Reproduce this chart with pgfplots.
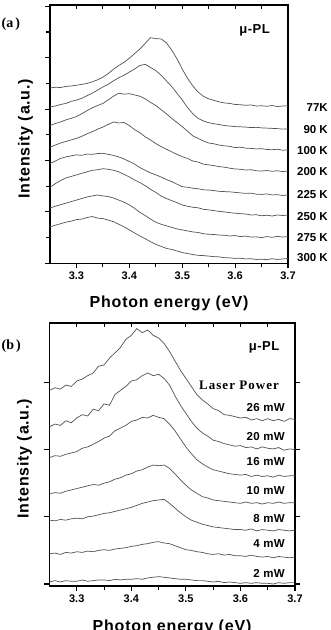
\documentclass[border=0pt]{standalone}
\usepackage{fontspec}
\setmainfont{Liberation Sans}
\newfontfamily\serifface{Liberation Serif}
\usepackage{pgfplots}
\usepackage{pgfplotstable}
\pgfplotsset{compat=1.18}

% Temperature series (offset traces, arbitrary units)
\pgfplotstableread{
x    c77  c90  c100 c200 c225 c250 c275 c300
3.25 6.82 6.08 5.36 4.52 3.88 2.96 2.15 1.42
3.26 6.85 6.12 5.44 4.60 3.98 3.10 2.22 1.48
3.27 6.84 6.18 5.50 4.68 4.08 3.22 2.28 1.54
3.28 6.88 6.22 5.58 4.74 4.14 3.32 2.34 1.60
3.29 6.90 6.30 5.64 4.80 4.18 3.38 2.40 1.64
3.30 6.93 6.35 5.71 4.86 4.22 3.44 2.46 1.70
3.31 6.96 6.42 5.82 4.94 4.20 3.50 2.52 1.72
3.32 7.00 6.52 5.94 5.04 4.25 3.56 2.58 1.78
3.33 7.06 6.62 6.05 5.12 4.24 3.62 2.62 1.82
3.34 7.14 6.74 6.14 5.22 4.27 3.64 2.66 1.76
3.35 7.24 6.86 6.22 5.30 4.28 3.68 2.62 1.74
3.36 7.38 6.96 6.36 5.40 4.24 3.66 2.60 1.68
3.37 7.55 7.10 6.50 5.50 4.20 3.62 2.54 1.62
3.38 7.70 7.22 6.62 5.46 4.14 3.56 2.46 1.52
3.39 7.82 7.32 6.58 5.48 4.06 3.46 2.38 1.42
3.40 7.98 7.44 6.60 5.36 3.96 3.36 2.27 1.30
3.41 8.16 7.56 6.55 5.20 3.86 3.24 2.14 1.18
3.42 8.34 7.70 6.50 5.08 3.72 3.14 1.98 1.06
3.43 8.56 7.74 6.40 4.92 3.62 3.02 1.86 0.96
3.44 8.78 7.62 6.26 4.80 3.52 2.88 1.72 0.84
3.45 8.74 7.50 6.14 4.66 3.44 2.76 1.60 0.74
3.46 8.73 7.32 5.98 4.54 3.36 2.62 1.52 0.66
3.47 8.58 7.10 5.82 4.44 3.26 2.52 1.46 0.58
3.48 8.30 6.88 5.64 4.34 3.18 2.44 1.40 0.54
3.49 7.96 6.62 5.48 4.24 3.08 2.36 1.34 0.48
3.50 7.56 6.36 5.32 4.15 2.98 2.27 1.30 0.42
3.51 7.20 6.06 5.14 4.08 2.96 2.22 1.26 0.38
3.52 6.90 5.82 4.96 3.98 2.92 2.18 1.22 0.34
3.53 6.66 5.64 4.86 3.94 2.90 2.16 1.20 0.31
3.54 6.50 5.54 4.76 3.86 2.86 2.10 1.15 0.30
3.55 6.40 5.47 4.68 3.83 2.85 2.08 1.13 0.28
3.56 6.34 5.43 4.65 3.80 2.83 2.05 1.12 0.26
3.57 6.28 5.40 4.60 3.76 2.80 2.02 1.10 0.25
3.58 6.24 5.36 4.57 3.74 2.79 2.00 1.09 0.22
3.59 6.22 5.34 4.55 3.70 2.78 1.97 1.06 0.21
3.60 6.18 5.32 4.50 3.67 2.76 1.95 1.08 0.19
3.61 6.17 5.31 4.52 3.66 2.74 1.93 1.04 0.20
3.62 6.15 5.30 4.48 3.63 2.72 1.92 1.06 0.17
3.63 6.16 5.28 4.47 3.64 2.73 1.88 1.02 0.18
3.64 6.12 5.29 4.45 3.60 2.69 1.89 1.03 0.15
3.65 6.13 5.27 4.46 3.59 2.68 1.85 1.00 0.16
3.66 6.11 5.26 4.43 3.61 2.70 1.87 1.04 0.14
3.67 6.14 5.25 4.42 3.58 2.66 1.84 1.01 0.18
3.68 6.10 5.24 4.44 3.60 2.67 1.88 1.05 0.15
3.69 6.12 5.22 4.40 3.57 2.64 1.86 1.02 0.17
3.70 6.13 5.23 4.41 3.59 2.66 1.88 1.04 0.19
}\temptable

% Laser-power series (offset traces, arbitrary units)
\pgfplotstableread{
x    p26  p20  p16  p10  p8   p4   p2
3.25 2.88 2.34 1.88 1.34 0.95 0.45 0.03
3.26 2.92 2.38 1.91 1.36 0.94 0.46 0.05
3.27 2.90 2.36 1.90 1.35 0.96 0.44 0.03
3.28 2.96 2.43 1.93 1.38 0.95 0.47 0.05
3.29 2.94 2.40 1.95 1.40 0.97 0.46 0.04
3.30 3.02 2.47 1.97 1.42 0.98 0.48 0.04
3.31 3.05 2.52 2.02 1.44 0.97 0.47 0.06
3.32 3.10 2.50 2.04 1.46 1.00 0.49 0.04
3.33 3.14 2.60 2.08 1.48 1.01 0.48 0.05
3.34 3.24 2.58 2.12 1.47 1.03 0.50 0.06
3.35 3.26 2.68 2.17 1.50 1.05 0.51 0.06
3.36 3.36 2.66 2.20 1.52 1.06 0.50 0.05
3.37 3.44 2.82 2.28 1.56 1.08 0.52 0.07
3.38 3.52 2.88 2.32 1.58 1.10 0.53 0.06
3.39 3.64 2.94 2.36 1.62 1.12 0.54 0.07
3.40 3.70 3.02 2.42 1.64 1.14 0.56 0.07
3.41 3.80 3.04 2.44 1.68 1.17 0.57 0.08
3.42 3.74 3.10 2.48 1.70 1.20 0.59 0.07
3.43 3.78 3.14 2.47 1.74 1.22 0.60 0.09
3.44 3.70 3.10 2.51 1.77 1.24 0.62 0.10
3.45 3.66 3.12 2.48 1.76 1.25 0.63 0.11
3.46 3.58 3.06 2.46 1.77 1.26 0.61 0.10
3.47 3.46 2.96 2.38 1.72 1.20 0.60 0.09
3.48 3.32 2.80 2.28 1.64 1.13 0.57 0.08
3.49 3.18 2.66 2.16 1.55 1.06 0.54 0.07
3.50 3.06 2.54 2.04 1.47 1.00 0.51 0.07
3.51 2.94 2.42 1.94 1.40 0.95 0.50 0.06
3.52 2.82 2.32 1.85 1.35 0.92 0.48 0.05
3.53 2.74 2.25 1.79 1.30 0.89 0.47 0.05
3.54 2.68 2.20 1.74 1.28 0.87 0.45 0.04
3.55 2.61 2.14 1.70 1.25 0.85 0.44 0.03
3.56 2.58 2.12 1.68 1.24 0.84 0.45 0.04
3.57 2.52 2.09 1.66 1.23 0.83 0.43 0.02
3.58 2.51 2.07 1.64 1.22 0.82 0.44 0.03
3.59 2.49 2.05 1.63 1.21 0.81 0.42 0.02
3.60 2.47 2.06 1.62 1.20 0.81 0.42 0.01
3.61 2.48 2.03 1.63 1.22 0.80 0.41 0.02
3.62 2.44 2.04 1.60 1.20 0.82 0.43 0.01
3.63 2.46 2.01 1.62 1.21 0.79 0.41 0.02
3.64 2.43 2.04 1.60 1.19 0.81 0.40 0.01
3.65 2.46 2.02 1.61 1.21 0.80 0.41 0.01
3.66 2.43 2.01 1.59 1.20 0.79 0.39 0.00
3.67 2.45 2.03 1.62 1.22 0.81 0.41 0.02
3.68 2.42 1.99 1.60 1.20 0.80 0.40 0.01
3.69 2.46 2.01 1.61 1.21 0.79 0.39 0.02
3.70 2.45 2.00 1.61 1.21 0.80 0.40 0.02
}\powertable

\newcommand\curvelbl{\fontsize{11.5}{12}\selectfont\bfseries}
\newcommand\axlbl{\fontsize{16}{16}\selectfont\bfseries\addfontfeature{LetterSpace=5}}
\newcommand\mupl{\fontsize{13}{13}\selectfont\bfseries\addfontfeature{LetterSpace=4}}

\pgfplotsset{
  curve/.style={black!68, line width=0.7pt, mark=none},
  panel/.style={
    scale only axis, anchor=south west,
    xmin=3.25, xmax=3.7,
    xtick={3.3,3.4,3.5,3.6,3.7}, minor x tick num=1,
    tick align=outside, xtick pos=bottom,
    axis line style={line width=1.6pt},
    tick style={black, line width=1.1pt},
    major tick length=5pt, minor tick length=4pt,
    yticklabels={},
    /pgf/number format/assume math mode=true,
    xticklabel style={font=\fontsize{11}{11}\selectfont\bfseries},
  },
  topticks/.style={
    scale only axis, anchor=south west,
    xmin=3.25, xmax=3.7,
    xtick={3.3,3.4,3.5,3.6,3.7}, minor x tick num=1,
    axis x line*=top, axis y line=none,
    tick align=inside, xticklabels={},
    axis line style={line width=1.6pt},
    tick style={black, line width=1.1pt},
    major tick length=4pt, minor tick length=4pt,
  },
}

\begin{document}
\begin{tikzpicture}

% ---- (a) temperature dependence ----
\begin{axis}[panel, at={(50pt,-263.3pt)}, width=238pt, height=258.3pt,
  ymin=0, ymax=10.05, ytick={0,2,...,10}, minor y tick num=1, ytick pos=left]
  \addplot[curve] table[x=x, y=c77]  {\temptable};
  \addplot[curve] table[x=x, y=c90]  {\temptable};
  \addplot[curve] table[x=x, y=c100] {\temptable};
  \addplot[curve] table[x=x, y=c200] {\temptable};
  \addplot[curve] table[x=x, y=c225] {\temptable};
  \addplot[curve] table[x=x, y=c250] {\temptable};
  \addplot[curve] table[x=x, y=c275] {\temptable};
  \addplot[curve] table[x=x, y=c300] {\temptable};
\end{axis}
\begin{axis}[topticks, at={(50pt,-263.3pt)}, width=238pt, height=258.3pt, ymin=0, ymax=10.05]
\end{axis}

% ---- (b) excitation power dependence ----
\begin{axis}[panel, at={(49.5pt,-586pt)}, width=245.5pt, height=263.3pt,
  ymin=-0.03, ymax=3.888, ytick={0,1,2,3}, ytick pos=both]
  \addplot[curve] table[x=x, y=p26] {\powertable};
  \addplot[curve] table[x=x, y=p20] {\powertable};
  \addplot[curve] table[x=x, y=p16] {\powertable};
  \addplot[curve] table[x=x, y=p10] {\powertable};
  \addplot[curve] table[x=x, y=p8]  {\powertable};
  \addplot[curve] table[x=x, y=p4]  {\powertable};
  \addplot[curve] table[x=x, y=p2]  {\powertable};
\end{axis}
\begin{axis}[topticks, at={(49.5pt,-586pt)}, width=245.5pt, height=263.3pt, ymin=-0.03, ymax=3.888]
\end{axis}

% panel letters
\node[anchor=base west, inner sep=0pt, font=\fontsize{14}{14}\selectfont\serifface\bfseries] at (1.5pt,-27.5pt) {(a\kern2pt)};
\node[anchor=base west, inner sep=0pt, font=\fontsize{14}{14}\selectfont\serifface\bfseries] at (1.5pt,-349pt) {(b\kern2pt)};

% axis titles
\node[anchor=base, inner sep=0pt, font=\axlbl] at (169pt,-307pt) {Photon energy (eV)};
\node[anchor=base, inner sep=0pt, font=\axlbl] at (172pt,-631pt) {Photon energy (eV)};
\node[anchor=base, inner sep=0pt, rotate=90, font=\axlbl] at (29.7pt,-138.7pt) {Intensity (a.u.)};
\node[anchor=base, inner sep=0pt, rotate=90, font=\axlbl] at (28.7pt,-458.7pt) {Intensity (a.u.)};

% in-plot captions
\node[anchor=base east, inner sep=0pt, font=\mupl] at (270pt,-33.3pt) {μ-PL};
\node[anchor=base east, inner sep=0pt, font=\mupl] at (279.5pt,-350pt) {μ-PL};
\node[anchor=base, inner sep=0pt, font=\fontsize{13}{13}\selectfont\serifface\bfseries\addfontfeature{LetterSpace=8}] at (239pt,-389pt) {Laser Power};

% temperature labels
\begin{scope}[every node/.style={anchor=base east, inner sep=0pt, font=\curvelbl}]
\node at (328pt,-111.7pt) {77K};
\node at (328pt,-133.3pt) {90 K};
\node at (328pt,-154pt)   {100 K};
\node at (328pt,-175pt)   {200 K};
\node at (328pt,-198.3pt) {225 K};
\node at (328pt,-220.7pt) {250 K};
\node at (328pt,-241.7pt) {275 K};
\node at (328pt,-261.7pt) {300 K};
\end{scope}

% power labels
\begin{scope}[every node/.style={anchor=base east, inner sep=0pt, font=\curvelbl\addfontfeature{LetterSpace=3}}]
\node at (285pt,-411.7pt) {26 mW};
\node at (285pt,-440pt)   {20 mW};
\node at (285pt,-465pt)   {16 mW};
\node at (285pt,-494pt)   {10 mW};
\node at (285pt,-522.3pt) {8 mW};
\node at (285pt,-547.3pt) {4 mW};
\node at (285pt,-577.3pt) {2 mW};
\end{scope}

% page area
\pgfresetboundingbox
\useasboundingbox (0pt,0pt) rectangle (330pt,-630pt);
\end{tikzpicture}
\end{document}
